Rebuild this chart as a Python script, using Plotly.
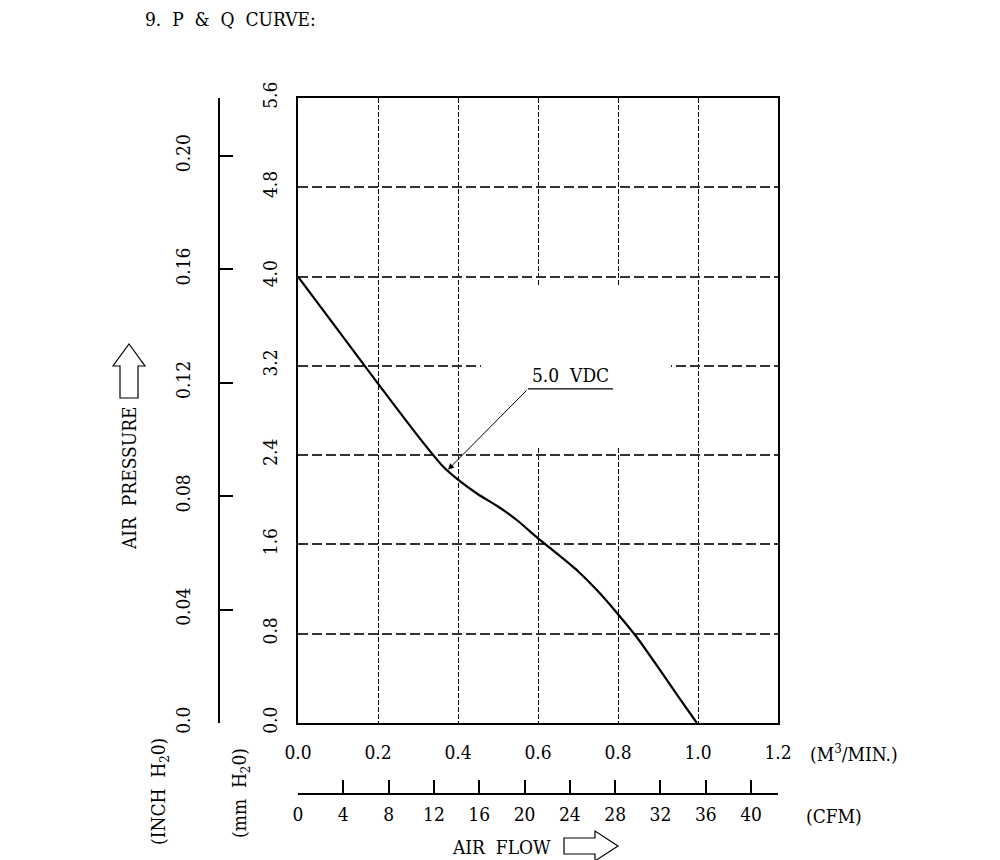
import plotly.graph_objects as go

# P-Q curve (air flow in m3/min, pressure in mm H2O)
flow_m3 = [0.0, 0.1, 0.2, 0.3, 0.362, 0.4, 0.45, 0.5, 0.55, 0.6, 0.65, 0.7, 0.75, 0.8, 0.85, 0.9, 0.95, 0.997]
pressure_mm = [4.0, 3.52, 3.04, 2.57, 2.30, 2.18, 2.05, 1.94, 1.81, 1.655, 1.51, 1.36, 1.18, 0.975, 0.755, 0.50, 0.24, 0.0]

m3_ticks = [0.0, 0.2, 0.4, 0.6, 0.8, 1.0, 1.2]
mm_ticks = [0.0, 0.8, 1.6, 2.4, 3.2, 4.0, 4.8, 5.6]
inch_ticks = [0.0, 0.04, 0.08, 0.12, 0.16, 0.20]
inch_labels = ["0.0", "0.04", "0.08", "0.12", "0.16", "0.20"]
cfm_ticks = [0, 4, 8, 12, 16, 20, 24, 28, 32, 36, 40]

CFM_PER_M3 = 35.3147
MM_PER_INCH = 25.4

FONT = "DejaVu Serif Condensed, Liberation Serif, serif"
W, H = 1000, 860
OFF = 7  # page body offset
ML, MR, MT, MB = 60, 60, 30, 30
PW, PH = W - ML - MR, H - MT - MB


def px_x(p):
    return (p - OFF - ML) / PW


def px_y(p):
    return (H - MB - (p - OFF)) / PH


def pts(points):
    return "M " + " L ".join(f"{px_x(a):.5f},{px_y(b):.5f}" for a, b in points) + " Z"


fig = go.Figure()
fig.add_trace(go.Scatter(x=flow_m3, y=pressure_mm, mode="lines",
                         line=dict(color="black", width=2.2, shape="spline", smoothing=0.3),
                         hoverinfo="skip", showlegend=False))
# dummy trace so the CFM / inch axes get drawn
fig.add_trace(go.Scatter(x=[0], y=[0], xaxis="x2", yaxis="y2", mode="markers",
                         marker=dict(opacity=0), hoverinfo="skip", showlegend=False))

fig.update_layout(
    width=W, height=H,
    margin=dict(l=ML, r=MR, t=MT, b=MB),
    paper_bgcolor="white", plot_bgcolor="white",
    font=dict(family=FONT, size=19, color="black"),
    xaxis=dict(domain=[px_x(297), px_x(777)], range=[0, 1.2],
               tickvals=m3_ticks, ticktext=[f"{v:.1f}" for v in m3_ticks],
               showline=True, mirror=True, linewidth=2, linecolor="black",
               showgrid=True, gridcolor="black", gridwidth=1, griddash="5px,2px",
               zeroline=False, ticks="", ticklabelstandoff=11),
    yaxis=dict(domain=[px_y(722), px_y(97)], range=[0, 5.6],
               tickvals=mm_ticks, ticktext=[f"{v:.1f}" for v in mm_ticks],
               tickangle=-90,
               showline=True, mirror=True, linewidth=2, linecolor="black",
               showgrid=True, gridcolor="#333", gridwidth=1.5, griddash="10px,4px",
               zeroline=False, ticks="", ticklabelstandoff=11),
    xaxis2=dict(overlaying="x", anchor="free", position=px_y(793), side="bottom",
                range=[0, 1.2 * CFM_PER_M3], tickvals=cfm_ticks,
                showline=True, linewidth=2, linecolor="black",
                ticks="inside", ticklen=13, tickwidth=1.5, tickcolor="black",
                showgrid=False, zeroline=False, ticklabelstandoff=3),
    yaxis2=dict(overlaying="y", anchor="free", position=px_x(218), side="left",
                range=[0, 5.6 / MM_PER_INCH], tickvals=inch_ticks, ticktext=inch_labels,
                tickangle=-90,
                showline=True, linewidth=2, linecolor="black",
                ticks="inside", ticklen=13, tickwidth=1.5, tickcolor="black",
                showgrid=False, zeroline=False, ticklabelstandoff=20),
)

shapes = [
    # gap in the grid behind the curve label
    dict(type="rect", xref="x", yref="y", x0=0.4575, x1=0.9325, y0=2.464, y1=3.916,
         fillcolor="white", line=dict(width=0), layer="between"),
    # underline of the label
    dict(type="line", xref="x", yref="y", x0=0.575, x1=0.7875, y0=2.993, y1=2.993,
         line=dict(color="black", width=1.2)),
    # pressure arrow
    dict(type="path", xref="paper", yref="paper",
         path=pts([(128, 343), (144, 365), (137, 365), (137, 397), (119, 397), (119, 365), (112, 365)]),
         line=dict(color="black", width=1.2), fillcolor="white"),
    # air flow arrow
    dict(type="path", xref="paper", yref="paper",
         path=pts([(563, 837), (594, 837), (594, 830), (617, 845), (594, 860), (594, 853), (563, 853)]),
         line=dict(color="black", width=1.2), fillcolor="white"),
]
fig.update_layout(shapes=shapes)


def label(xp, yp, text, angle=0, **kw):
    return dict(x=px_x(xp), y=px_y(yp), xref="paper", yref="paper", text=text,
                textangle=angle, showarrow=False, xanchor=kw.pop("xanchor", "center"),
                yanchor="middle", **kw)


ann = [
    dict(x=0.375, y=2.27, ax=0.575, ay=2.993, axref="x", ayref="y", xref="x", yref="y",
         text="", showarrow=True, arrowhead=2, arrowsize=1.2, arrowwidth=1, arrowcolor="black"),
    dict(x=0.68, y=3.0, xref="x", yref="y", text="5.0&nbsp;&nbsp;VDC", showarrow=False,
         xanchor="center", yanchor="bottom"),
    label(142, 18, "9.&nbsp;&nbsp;P&nbsp;&nbsp;&amp;&nbsp;&nbsp;Q&nbsp;&nbsp;CURVE:", xanchor="left"),
    label(128, 477, "AIR&nbsp;&nbsp;PRESSURE", -90),
    label(158, 791, "(INCH&nbsp;&nbsp;H<sub>2</sub>0)", -90),
    label(239, 792, "(mm&nbsp;&nbsp;H<sub>2</sub>0)", -90),
    label(500, 846, "AIR&nbsp;&nbsp;FLOW"),
    label(853, 752, "(M<sup>3</sup>/MIN.)"),
    label(833, 815, "(CFM)"),
]
fig.update_layout(annotations=ann)

fig.write_html("out.html")
